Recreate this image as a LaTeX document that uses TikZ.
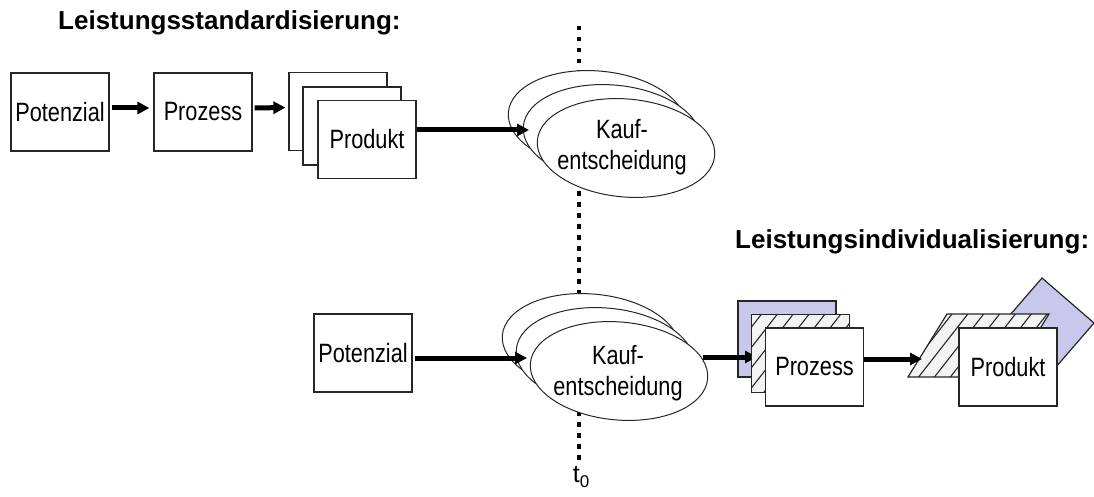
\documentclass[tikz,border=0pt]{standalone}
\usepackage{fontspec}
\setmainfont{Liberation Sans}
\newfontfamily\narrowsf[FakeStretch=0.82]{Liberation Sans}
\usetikzlibrary{arrows.meta,shapes.geometric,patterns.meta}
\definecolor{lav}{RGB}{200,200,236}
\definecolor{hatchbg}{RGB}{243,243,243}

\begin{document}
\begin{tikzpicture}[x=1pt,y=-1pt,
  box/.style={draw=black!85,line width=1.2pt,fill=white,minimum width=98pt,
    minimum height=78pt,inner sep=0pt,font=\narrowsf\fontsize{26.5}{31}\selectfont},
  oval/.style={ellipse,draw=black!85,line width=1pt,fill=white,minimum width=178pt,
    minimum height=98pt,inner sep=0pt,rotate=-5},
  ovaltext/.style={align=center,inner sep=0pt,font=\narrowsf\fontsize{26.5}{31}\selectfont},
  flow/.style={line width=5pt,-{Triangle[length=12pt,width=12pt]}},
  heading/.style={anchor=base west,inner sep=0pt,font=\bfseries\fontsize{26}{31}\selectfont},
  hatched/.style={draw=black!85,line width=1.2pt,preaction={fill=hatchbg},
    pattern={Lines[angle=52,distance=12.5pt,line width=1.1pt]},pattern color=black!85},
  tint/.style={draw=black!85,line width=1.2pt,fill=lav},
  timeline/.style={line width=4.5pt,dash pattern=on 4.5pt off 6.5pt}
]
\useasboundingbox (0,0) rectangle (1094,497);

% time axis t_0
\node[inner sep=0pt,anchor=base,font=\fontsize{25}{27}\selectfont] (t0) at (581,482)
  {t\raisebox{-5pt}{\fontsize{17}{17}\selectfont 0}};
\coordinate (tltop) at (579,26);
\draw[timeline,shorten >=4pt] (tltop) -- (tltop |- t0.north);

% headings
\node[heading] (headA) at (58,30) {Leistungsstandardisierung:};
\node[heading] (headB) at (735,248) {Leistungsindividualisierung:};

% --- standardised service ---
\node[box] (potA) at (60,112) {Potenzial};
\node[box] (prozA) at (203,112) {Prozess};
\node[box] (prodA3) at (338,111.5) {};
\node[box] (prodA2) at (352,126) {};
\node[box] (prodA1) at (367,139.5) {Produkt};
\draw[flow,shorten <=2pt,shorten >=4pt] ([yshift=4pt]potA.east) -- ([yshift=4pt]prozA.west);
\draw[flow,shorten <=2pt,shorten >=3pt] ([yshift=4pt]prozA.east) -- ([yshift=4pt]prodA3.west);

\node[oval] (kaufA3) at (597,120) {};
\node[oval] (kaufA2) at (612,134) {};
\node[oval] (kaufA1) at (626,148) {};
\node[ovaltext] (kaufAtxt) at (622,147) {Kauf-\\entscheidung};
\coordinate (kaufAin) at (529,130);
\draw[flow] ([yshift=9.5pt]prodA1.east) -- (kaufAin);

% --- individualised service ---
\node[box] (potB) at (363,353) {Potenzial};

\node[oval] (kaufB3) at (591,343) {};
\node[oval] (kaufB2) at (605,357) {};
\node[oval] (kaufB1) at (619,371) {};
\node[ovaltext] (kaufBtxt) at (618,373) {Kauf-\\entscheidung};
\coordinate (kaufBin) at (527,358);
\draw[flow,shorten <=2pt] ([yshift=-5pt]potB.east) -- (kaufBin);

\node[box,tint,minimum height=76pt] (prozB3) at (787,339) {};
\coordinate (kaufBout) at (703,357);
\coordinate (prozBin) at (757,357);
\draw[flow] (kaufBout) -- (prozBin);
\node[box,hatched] (prozB2) at (800.5,353.5) {};
\node[box] (prozB1) at (814.5,367) {Prozess};

\draw[tint] (1042,278) -- (1094,323) -- (1049,375) -- (997,330) -- cycle;
\draw[hatched] (908,377) -- (947,314) -- (1049,314) -- (1010,377) -- cycle;
\coordinate (prodBin) at (922,359);
\draw[flow] ([yshift=8pt]prozB1.east) -- (prodBin);
\node[box] (prodB) at (1008,367) {Produkt};
\end{tikzpicture}
\end{document}
